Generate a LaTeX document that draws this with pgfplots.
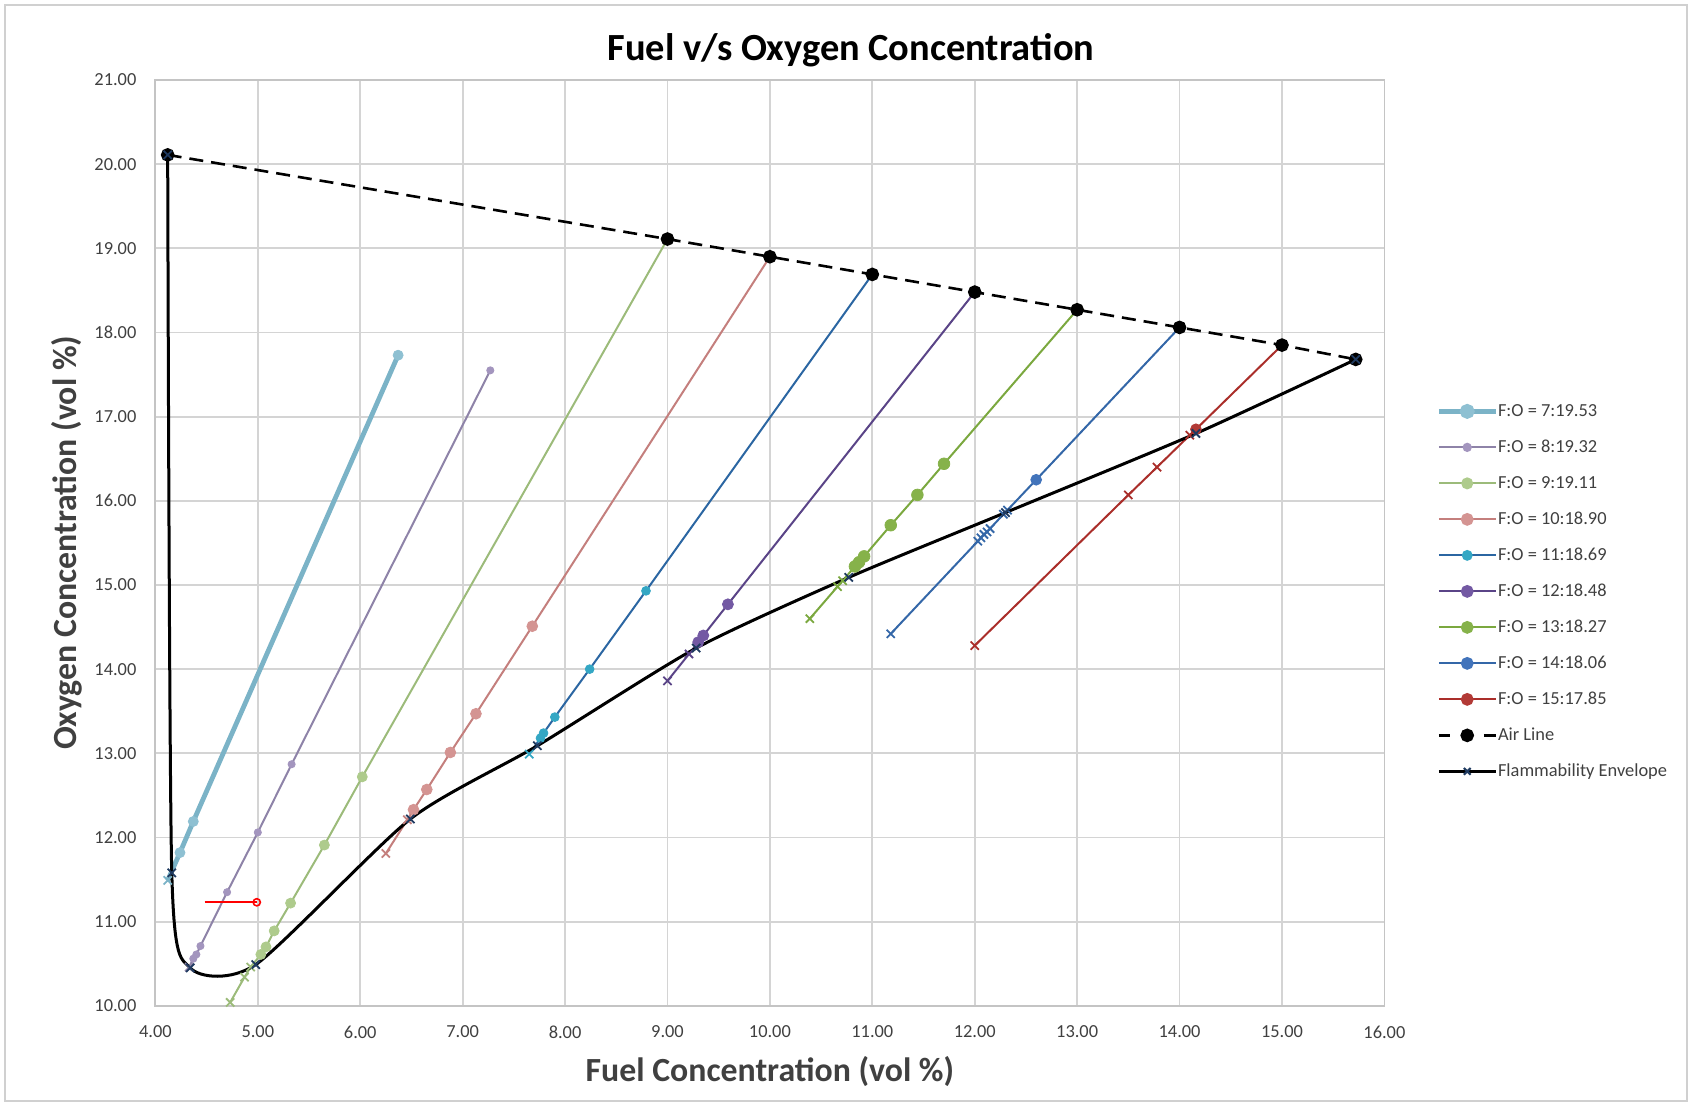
\documentclass[border=0pt]{standalone}
\usepackage{pgfplots}
\pgfplotsset{compat=1.18}
\usepackage{fontspec}
\setmainfont{Carlito}
\usetikzlibrary{calc}

\definecolor{c7}{HTML}{7BB3C7}\definecolor{c7m}{HTML}{8EC0D2}
\definecolor{c8}{HTML}{8E83A8}\definecolor{c8m}{HTML}{A395BE}
\definecolor{c9}{HTML}{9CBB7A}\definecolor{c9m}{HTML}{AECB8C}
\definecolor{c10}{HTML}{C47F7D}\definecolor{c10m}{HTML}{D49492}
\definecolor{c11}{HTML}{2B66A2}\definecolor{c11m}{HTML}{34A7C4}
\definecolor{c12}{HTML}{5A4487}\definecolor{c12m}{HTML}{7359A3}
\definecolor{c13}{HTML}{7BA83F}\definecolor{c13m}{HTML}{86B24A}
\definecolor{c14}{HTML}{3467A8}\definecolor{c14m}{HTML}{4274BB}
\definecolor{c15}{HTML}{AA2E2A}\definecolor{c15m}{HTML}{B23A36}
\definecolor{envx}{HTML}{1F3A60}
\definecolor{gridgray}{HTML}{D4D4D4}
\definecolor{axgray}{HTML}{C4C4C4}
\definecolor{txtgray}{HTML}{404040}
\definecolor{framegray}{HTML}{D0D0D0}

\pgfplotsset{
  ln/.style={forget plot, line width=1pt, #1},
  circ/.style 2 args={forget plot, only marks, mark=*, mark size=#2, mark options={fill=#1, draw=#1}},
  xm/.style={forget plot, only marks, mark=x, mark size=2.9pt, mark options={draw=#1, line width=0.9pt}},
}

\begin{document}
\begin{tikzpicture}
\begin{axis}[
  name=ax,
  scale only axis,
  width=614.5pt, height=462.9pt,
  xmin=4, xmax=16, ymin=10, ymax=21,
  xtick={4,5,...,16}, ytick={10,11,...,21},
  grid=major,
  major grid style={draw=gridgray, line width=0.9pt},
  axis line style={draw=axgray, line width=0.9pt},
  major tick length=0pt,
  ticklabel style={font=\fontsize{9.2}{11}\selectfont, text=txtgray},
  xticklabel style={anchor=north, inner sep=0pt, yshift=-9.9pt},
  yticklabel style={anchor=east, inner sep=0pt, xshift=-9.3pt},
  /pgf/number format/fixed,
  /pgf/number format/fixed zerofill,
  /pgf/number format/precision=2,
  /pgf/number format/assume math mode=true,
  title={Fuel v/s Oxygen Concentration},
  title style={at={(axis description cs:0.566,1.019)}, anchor=center, font=\bfseries\fontsize{19.2}{23}\selectfont, text=black},
  xlabel={Fuel Concentration (vol \%)},
  ylabel={Oxygen Concentration (vol \%)},
  xlabel style={at={(axis description cs:0.5,-0.0711)}, anchor=center, font=\bfseries\fontsize{16.9}{20}\selectfont, text=txtgray},
  ylabel style={at={(axis description cs:-0.0719,0.5)}, anchor=center, font=\bfseries\fontsize{16.9}{20}\selectfont, text=txtgray},
  legend image code/.code={\draw[mark repeat=2,mark phase=2] plot coordinates {(0pt,0pt) (14.2pt,0pt) (28.4pt,0pt)};},
  legend cell align=left,
  legend style={at={(axis description cs:1.042,0.6522)}, anchor=north west, draw=none, fill=none, inner sep=0pt,
    font=\fontsize{9.2}{11}\selectfont, text=txtgray, row sep=9pt,
    nodes={inner sep=0pt, text height=7pt, text depth=2pt},
    /tikz/every even column/.append style={column sep=3pt}},
]

% ---- F:O = 7:19.53
\addplot[ln={c7, line width=2.4pt}] coordinates {(4.12,11.49) (4.16,11.60) (4.24,11.82) (4.37,12.19) (6.37,17.73)};
\addplot[circ={c7m}{2.5pt}] coordinates {(4.24,11.82) (4.37,12.19) (6.37,17.73)};
\addplot[xm=c7] coordinates {(4.12,11.49)};
% ---- F:O = 8:19.32
\addplot[ln=c8] coordinates {(4.33,10.46) (4.37,10.56) (4.40,10.61) (4.44,10.71) (4.70,11.35) (5.00,12.06) (5.33,12.87) (7.27,17.55)};
\addplot[circ={c8m}{1.8pt}] coordinates {(4.37,10.56) (4.40,10.61) (4.44,10.71) (4.70,11.35) (5.00,12.06) (5.33,12.87) (7.27,17.55)};
\addplot[xm=c8] coordinates {(4.33,10.46)};
% ---- F:O = 9:19.11
\addplot[ln=c9] coordinates {(4.73,10.04) (4.87,10.34) (4.93,10.46) (5.03,10.61) (5.08,10.70) (5.16,10.89) (5.32,11.22) (5.65,11.91) (6.02,12.72) (9.00,19.11)};
\addplot[circ={c9m}{2.5pt}] coordinates {(5.03,10.61) (5.08,10.70) (5.16,10.89) (5.32,11.22) (5.65,11.91) (6.02,12.72) (9.00,19.11)};
\addplot[xm=c9] coordinates {(4.73,10.04) (4.87,10.34) (4.93,10.46)};
% ---- F:O = 10:18.90
\addplot[ln=c10] coordinates {(6.25,11.81) (6.46,12.21) (6.52,12.33) (6.65,12.57) (6.88,13.01) (7.13,13.47) (7.68,14.51) (10.00,18.90)};
\addplot[circ={c10m}{2.7pt}] coordinates {(6.52,12.33) (6.65,12.57) (6.88,13.01) (7.13,13.47) (7.68,14.51) (10.00,18.90)};
\addplot[xm=c10] coordinates {(6.25,11.81) (6.46,12.21)};
% ---- F:O = 11:18.69
\addplot[ln=c11] coordinates {(7.65,12.99) (7.76,13.18) (7.79,13.24) (7.90,13.43) (8.24,14.00) (8.79,14.93) (11.00,18.69)};
\addplot[circ={c11m}{2.2pt}] coordinates {(7.76,13.18) (7.79,13.24) (7.90,13.43) (8.24,14.00) (8.79,14.93) (11.00,18.69)};
\addplot[xm=c11m] coordinates {(7.65,12.99)};
% ---- F:O = 12:18.48
\addplot[ln=c12] coordinates {(9.00,13.86) (9.21,14.18) (9.30,14.32) (9.35,14.40) (9.59,14.77) (12.00,18.48)};
\addplot[circ={c12m}{2.75pt}] coordinates {(9.30,14.32) (9.35,14.40) (9.59,14.77) (12.00,18.48)};
\addplot[xm=c12] coordinates {(9.00,13.86) (9.21,14.18)};
% ---- F:O = 13:18.27
\addplot[ln=c13] coordinates {(10.39,14.60) (10.66,14.98) (10.71,15.05) (10.83,15.22) (10.87,15.27) (10.92,15.34) (11.18,15.71) (11.44,16.07) (11.70,16.44) (13.00,18.27)};
\addplot[circ={c13m}{2.9pt}] coordinates {(10.83,15.22) (10.87,15.27) (10.92,15.34) (11.18,15.71) (11.44,16.07) (11.70,16.44) (13.00,18.27)};
\addplot[xm=c13] coordinates {(10.39,14.60) (10.66,14.98) (10.71,15.05)};
% ---- F:O = 14:18.06
\addplot[ln=c14] coordinates {(11.18,14.42) (12.03,15.52) (12.06,15.56) (12.09,15.60) (12.12,15.63) (12.15,15.67) (12.28,15.84) (12.32,15.89) (12.60,16.25) (14.00,18.06)};
\addplot[circ={c14m}{2.7pt}] coordinates {(12.60,16.25) (14.00,18.06)};
\addplot[xm=c14] coordinates {(11.18,14.42) (12.03,15.52) (12.06,15.56) (12.09,15.60) (12.12,15.63) (12.15,15.67) (12.28,15.84) (12.32,15.89)};
% ---- F:O = 15:17.85
\addplot[ln=c15] coordinates {(12.00,14.28) (13.50,16.07) (13.78,16.40) (14.10,16.78) (14.16,16.85) (15.00,17.85)};
\addplot[circ={c15m}{2.7pt}] coordinates {(14.16,16.85) (15.00,17.85)};
\addplot[xm=c15] coordinates {(12.00,14.28) (13.50,16.07) (13.78,16.40) (14.10,16.78)};

% ---- red marker segment
\addplot[forget plot, red, line width=0.9pt, mark=o, mark size=1.8pt, mark indices={2}, mark options={solid, fill=white, line width=0.8pt}] coordinates {(4.48,11.23) (4.99,11.23)};

% ---- Air line
\addplot[forget plot, black, line width=1.3pt, dash pattern=on 7pt off 4pt, mark=*, mark size=2.75pt, mark options={solid}] coordinates {(4.12,20.11) (9.00,19.11) (10.00,18.90) (11.00,18.69) (12.00,18.48) (13.00,18.27) (14.00,18.06) (15.00,17.85) (15.72,17.68)};

% ---- Flammability envelope
\addplot[forget plot, black, line width=1.5pt, smooth, tension=0.4] coordinates {(4.12,20.11) (4.16,11.58) (4.34,10.45) (4.98,10.49) (6.49,12.22) (7.73,13.09) (9.28,14.25) (10.77,15.09) (12.30,15.86) (14.16,16.80) (15.72,17.68)};
\addplot[xm=envx] coordinates {(4.12,20.11) (4.16,11.58) (4.34,10.45) (4.98,10.49) (6.49,12.22) (7.73,13.09) (9.28,14.25) (10.77,15.09) (12.30,15.86) (14.16,16.80) (15.72,17.68)};

% ---- legend
\addlegendimage{c7, line width=2.4pt, mark=*, mark size=2.5pt, mark options={fill=c7m, draw=c7m}}
\addlegendentry{F:O = 7:19.53}
\addlegendimage{c8, line width=1pt, mark=*, mark size=1.8pt, mark options={fill=c8m, draw=c8m}}
\addlegendentry{F:O = 8:19.32}
\addlegendimage{c9, line width=1pt, mark=*, mark size=2.5pt, mark options={fill=c9m, draw=c9m}}
\addlegendentry{F:O = 9:19.11}
\addlegendimage{c10, line width=1pt, mark=*, mark size=2.7pt, mark options={fill=c10m, draw=c10m}}
\addlegendentry{F:O = 10:18.90}
\addlegendimage{c11, line width=1pt, mark=*, mark size=2.2pt, mark options={fill=c11m, draw=c11m}}
\addlegendentry{F:O = 11:18.69}
\addlegendimage{c12, line width=1pt, mark=*, mark size=2.7pt, mark options={fill=c12m, draw=c12m}}
\addlegendentry{F:O = 12:18.48}
\addlegendimage{c13, line width=1pt, mark=*, mark size=2.7pt, mark options={fill=c13m, draw=c13m}}
\addlegendentry{F:O = 13:18.27}
\addlegendimage{c14, line width=1pt, mark=*, mark size=2.7pt, mark options={fill=c14m, draw=c14m}}
\addlegendentry{F:O = 14:18.06}
\addlegendimage{c15, line width=1pt, mark=*, mark size=2.7pt, mark options={fill=c15m, draw=c15m}}
\addlegendentry{F:O = 15:17.85}
\addlegendimage{black, line width=1.3pt, dash pattern=on 5.5pt off 17pt on 6pt off 0pt, mark=*, mark size=2.75pt, mark options={solid}}
\addlegendentry{Air Line}
\addlegendimage{black, line width=1.3pt, mark=x, mark size=2.4pt, mark options={draw=envx, line width=1pt}}
\addlegendentry{Flammability Envelope}
\end{axis}
\pgfresetboundingbox
\useasboundingbox ($(ax.south west)+(-77.7pt,-50.15pt)$) rectangle ($(ax.north east)+(153.8pt,40pt)$);
\draw[framegray, line width=1pt] ($(ax.south west)+(-75.2pt,-47.65pt)$) rectangle ($(ax.north east)+(151.3pt,37.5pt)$);
\end{tikzpicture}
\end{document}
